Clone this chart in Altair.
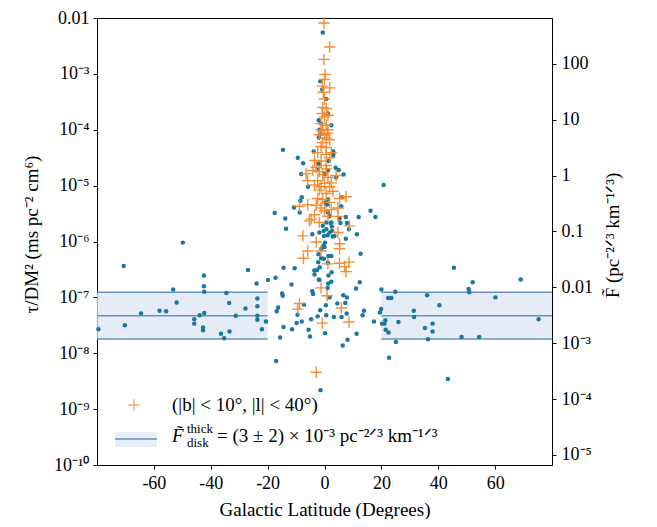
import altair as alt
import pandas as pd

# ---------------- data ----------------
# all pulsars: galactic latitude (deg) and log10(tau/DM^2)
blue_b = [-79.5, -70.6, -70.2, -64.5, -58.0, -55.7, -53.2, -52.0, -49.8, -45.8, -45.8, -43.9,
          -42.7, -42.7, -42.4, -42.4, -42.3, -42.3, -36.4, -35.3, -34.5, -33.5, -33.4, -31.2,
          -27.8, -26.9, -23.9, -23.6, -23.6, -23.6, -23.6, -22.0, -20.6, -19.9, -17.5, -17.2,
          -17.0, -16.8, -16.3, -15.6, -14.9, -14.7, -14.6, -14.4, -14.4, -13.8, -13.5, -11.6,
          -11.4, -10.7, -10.5, -9.8, -9.5, -9.4, -8.7, -8.5, -8.2, -8.0, -8.0, -7.5, -7.2,
          -5.8, -5.6, -5.1, -4.7, -4.3, -4.3, -4.0, -3.8, -3.6, -3.5, -2.6, -2.4, -2.4, -2.2,
          -2.1, -2.0, -2.0, -2.0, -2.0, -1.8, -1.8, -1.8, -1.7, -1.5, -1.5, -1.5, -1.4, -1.2,
          -1.2, -1.1, -0.8, -0.6, -0.6, -0.4, -0.3, -0.2, -0.2, 0.0, 0.1, 0.2, 0.2, 0.4, 0.5,
          0.6, 0.6, 0.6, 0.6, 0.9, 1.1, 1.1, 1.2, 1.2, 1.2, 1.2, 1.2, 1.3, 1.4, 1.4, 1.5, 1.8,
          1.8, 1.8, 2.1, 2.4, 2.4, 2.4, 2.4, 2.5, 2.6, 2.7, 2.9, 3.1, 3.1, 3.3, 3.5, 3.9, 4.1,
          4.5, 5.0, 5.3, 5.6, 5.9, 6.0, 6.1, 6.4, 6.6, 6.7, 7.3, 7.5, 7.5, 7.8, 7.9, 7.9, 8.1,
          8.6, 11.1, 11.3, 11.4, 12.0, 12.4, 12.7, 13.4, 13.9, 16.2, 17.4, 17.9, 19.5, 19.9,
          20.0, 20.2, 20.8, 21.1, 21.4, 21.5, 22.4, 22.5, 22.7, 23.5, 24.9, 25.1, 26.0, 31.4,
          31.5, 35.3, 36.1, 36.4, 38.0, 38.0, 40.4, 43.4, 45.5, 48.2, 50.7, 50.9, 52.1, 54.4,
          60.1, 69.0, 75.3]
blue_logtau = [-7.57, -6.44, -7.50, -7.29, -7.24, -7.25, -6.86, -7.09, -6.02, -7.39, -7.47, -7.32,
               -7.54, -7.59, -6.61, -6.80, -6.90, -7.28, -7.65, -7.73, -6.92, -7.10, -7.61, -7.33,
               -7.20, -6.51, -6.75, -7.02, -7.16, -7.33, -7.40, -7.57, -7.43, -6.69, -5.49, -6.65,
               -8.14, -7.25, -7.18, -7.72, -6.93, -6.97, -4.36, -6.47, -7.53, -5.59, -5.77, -6.77,
               -7.57, -5.39, -6.48, -7.46, -7.31, -4.50, -5.48, -5.27, -4.79, -5.21, -7.43, -4.60,
               -7.13, -5.02, -7.58, -7.70, -7.39, -5.87, -6.89, -6.94, -4.39, -6.52, -6.59, -6.51,
               -7.34, -4.72, -6.37, -6.23, -6.68, -4.61, -4.14, -3.83, -6.69, -5.84, -4.00, -6.46,
               -7.23, -3.13, -4.08, -8.66, -6.30, -3.89, -6.13, -3.28, -2.26, -5.72, -6.07, -5.81,
               -6.31, -5.90, -6.10, -4.79, -6.02, -7.64, -5.30, -7.14, -7.32, -5.66, -5.78, -3.45,
               -5.34, -6.83, -5.89, -5.48, -5.25, -4.73, -6.38, -3.71, -6.75, -6.61, -6.26, -4.56,
               -7.00, -5.84, -5.55, -5.67, -6.72, -6.26, -5.66, -3.92, -6.55, -5.73, -5.81, -5.91,
               -4.39, -4.45, -7.35, -5.90, -4.68, -4.85, -7.11, -4.72, -5.59, -5.67, -5.37, -7.35,
               -5.21, -7.86, -6.96, -4.80, -7.10, -5.56, -5.95, -7.29, -7.00, -5.67, -7.76, -5.78,
               -6.84, -7.65, -5.87, -5.56, -6.73, -6.22, -7.32, -7.24, -5.45, -7.43, -5.56, -7.27,
               -7.21, -6.86, -7.47, -4.99, -7.47, -7.41, -7.58, -7.01, -7.63, -8.08, -7.01, -6.90,
               -7.80, -7.44, -7.24, -7.35, -7.55, -6.96, -7.75, -7.47, -7.61, -7.14, -8.46, -6.47,
               -7.71, -6.85, -6.91, -6.73, -7.71, -7.00, -6.68, -7.39]

# pulsars with |b| < 10 deg, |l| < 40 deg
orange_b = [-0.2, 1.8, -0.2, 0.2, 0.0, -0.8, 1.8, -0.4, 0.0, -0.6, 0.6, -0.8, 1.2, 0.0, -1.2,
            0.6, -0.6, -1.2, 1.2, 1.2, -1.8, 0.0, 1.8, -0.6, 0.6, -2.4, 2.4, 0.6, -1.2, 0.6,
            -2.9, 0.6, -4.1, -6.5, 4.1, -5.9, -2.4, 0.0, -3.5, -1.2, 1.8, -1.8, 0.6, 7.6, 5.3,
            -2.4, -5.9, -8.8, -1.2, 4.7, 2.4, -3.5, 1.2, 4.7, -4.7, -5.3, -1.8, 8.8, 4.7, -7.6,
            -2.9, 5.3, 5.3, -1.2, -5.9, -7.4, 5.3, 1.2, 8.6, 7.1, 7.6, -1.2, 0.9, -8.8, -9.4,
            5.9, 8.6, -0.8, -2.9, -0.6, 1.2, -1.8, 2.4, -0.6, 1.8, 0.0, -2.9, 3.0, -3.5, 1.8,
            -1.2, 0.6]
orange_logtau = [-2.09, -2.52, -2.74, -3.01, -3.10, -3.22, -3.25, -3.33, -3.45, -3.60, -3.62,
                 -3.71, -3.74, -3.77, -3.89, -3.92, -4.00, -4.00, -4.00, -4.06, -4.09, -4.09,
                 -4.18, -4.23, -4.32, -4.41, -4.41, -4.44, -4.56, -4.64, -4.67, -4.70, -4.73,
                 -4.79, -4.82, -4.91, -4.91, -4.96, -4.99, -5.02, -5.02, -5.08, -5.14, -5.20,
                 -5.23, -5.23, -5.34, -5.37, -5.40, -5.40, -5.43, -5.52, -5.55, -5.55, -5.60,
                 -5.63, -5.66, -5.72, -5.84, -5.90, -6.01, -6.04, -6.13, -6.17, -6.17, -6.30,
                 -6.39, -6.40, -6.37, -6.45, -6.54, -6.83, -6.97, -7.11, -7.21, -7.19, -7.44,
                 -7.46, -8.34, -4.80, -4.85, -4.75, -4.95, -5.25, -5.30, -5.45, -5.35, -5.10,
                 -4.55, -4.50, -4.30, -4.15]

# thick-disk band (in tau/DM^2 units) and the |b| ranges where it is drawn
band_lo, band_mid, band_hi = 1.79e-8, 4.71e-8, 1.24e-7
band_from = [-80, 20]
band_to = [-20, 80]

# axes
x_ticks = [-60, -40, -20, 0, 20, 40, 60]
left_ticks = [1e-10, 1e-9, 1e-8, 1e-7, 1e-6, 1e-5, 1e-4, 1e-3, 1e-2]
left_labels = ["10⁻¹⁰", "10⁻⁹", "10⁻⁸", "10⁻⁷", "10⁻⁶", "10⁻⁵", "10⁻⁴", "10⁻³", "0.01"]
right_ticks = [1e-5, 1e-4, 1e-3, 1e-2, 1e-1, 1, 10, 100]
right_labels = ["10⁻⁵", "10⁻⁴", "10⁻³", "0.01", "0.1", "1", "10", "100"]
right_domain = [6.6e-6, 662.0]   # F~ values matching tau/DM^2 = 1e-10 .. 1e-2

# ---------------- style ----------------
FONT = "Liberation Serif"
BLUE = "#18789f"
ORANGE = "#f5882a"
BAND_FILL = "#dce6f2"
BAND_LINE = "#6592c0"
TOP = 10
W, H = 455, 447


def label_expr(ticks, labels):
    import math
    expr = "''"
    for t, s in zip(ticks, labels):
        k = round(math.log10(t))
        expr = f"(abs(log(datum.value)/LN10 - ({k})) < 0.01 ? '{s}' : {expr})"
    return expr


AX = dict(grid=False, tickSize=4, domainColor="black", tickColor="black",
          labelFont=FONT, titleFont=FONT, labelFontSize=18, titleFontSize=19,
          titleFontWeight="normal", labelColor="black", titleColor="black")

blue_df = pd.DataFrame({"b": blue_b, "tau": [10 ** v for v in blue_logtau]})
orange_df = pd.DataFrame({"b": orange_b, "tau": [10 ** v for v in orange_logtau]})
band_df = pd.DataFrame({"b0": band_from, "b1": band_to,
                        "lo": [band_lo] * 2, "hi": [band_hi] * 2})
lines_df = pd.DataFrame({
    "b0": band_from * 3, "b1": band_to * 3,
    "tau": [band_lo] * 2 + [band_mid] * 2 + [band_hi] * 2,
})

xscale = alt.Scale(domain=[-80, 80], nice=False, zero=False)
yscale = alt.Scale(type="log", domain=[1e-10, 1e-2], nice=False)

xaxis = alt.Axis(
    title="Galactic Latitude (Degrees)", values=x_ticks,
    labelExpr="datum.value < 0 ? '-' + abs(datum.value) : '' + datum.value",
    labelPadding=5, titlePadding=8, **AX,
)
yaxis = alt.Axis(
    title="τ/DM² (ms pc⁻² cm⁶)", values=left_ticks,
    labelExpr=label_expr(left_ticks, left_labels), labelPadding=4,
    titleX=-66, titleY=226 - TOP, titleAngle=270, titleAlign="center", titleBaseline="middle",
    **AX,
)

band = alt.Chart(band_df).mark_rect(color=BAND_FILL, opacity=0.75).encode(
    x=alt.X("b0:Q", scale=xscale, axis=xaxis),
    x2="b1:Q",
    y=alt.Y("lo:Q", scale=yscale, axis=yaxis),
    y2="hi:Q",
)
lines = alt.Chart(lines_df).mark_rule(color=BAND_LINE, strokeWidth=1.5).encode(
    x=alt.X("b0:Q", scale=xscale, axis=xaxis),
    x2="b1:Q",
    y=alt.Y("tau:Q", scale=yscale, axis=yaxis),
)
blue = alt.Chart(blue_df).mark_point(
    filled=True, shape="circle", size=20, color=BLUE, opacity=1
).encode(
    x=alt.X("b:Q", scale=xscale, axis=xaxis),
    y=alt.Y("tau:Q", scale=yscale, axis=yaxis),
)
orange = alt.Chart(orange_df).mark_point(
    shape="M-1,0L1,0M0,-1L0,1", size=130, filled=False, color=ORANGE,
    strokeWidth=1.4, opacity=0.95
).encode(
    x=alt.X("b:Q", scale=xscale, axis=xaxis),
    y=alt.Y("tau:Q", scale=yscale, axis=yaxis),
)

# legend (drawn inside the plot, lower left); positions in plot pixels
leg_src = pd.DataFrame({"k": [0]})
leg_plus = alt.Chart(leg_src).mark_point(
    shape="M-1,0L1,0M0,-1L0,1", size=130, filled=False, color=ORANGE, strokeWidth=1.4
).encode(x=alt.value(37), y=alt.value(405 - 8 - TOP))
leg_patch = alt.Chart(leg_src).mark_rect(color=BAND_FILL, opacity=0.75).encode(
    x=alt.value(18), x2=alt.value(60), y=alt.value(432 - 8 - TOP), y2=alt.value(447 - 8 - TOP))
leg_line = alt.Chart(leg_src).mark_rule(color=BAND_LINE, strokeWidth=1.5).encode(
    x=alt.value(18), x2=alt.value(60), y=alt.value(439 - 8 - TOP))
leg_t1 = alt.Chart(leg_src).mark_text(
    text="(|b| < 10°, |l| < 40°)", font=FONT, fontSize=19, align="left", baseline="middle"
).encode(x=alt.value(75), y=alt.value(405 - 8 - TOP))
leg_F = alt.Chart(leg_src).mark_text(
    text="F̃", font=FONT, fontSize=19, fontStyle="italic", align="left", baseline="middle"
).encode(x=alt.value(75), y=alt.value(436 - 8 - TOP))
leg_sup = alt.Chart(leg_src).mark_text(
    text="thick", font=FONT, fontSize=13, align="left", baseline="middle"
).encode(x=alt.value(90), y=alt.value(429 - 8 - TOP))
leg_sub = alt.Chart(leg_src).mark_text(
    text="disk", font=FONT, fontSize=13, align="left", baseline="middle"
).encode(x=alt.value(90), y=alt.value(443 - 8 - TOP))
leg_t2 = alt.Chart(leg_src).mark_text(
    text="= (3 ± 2) × 10⁻³ pc⁻²ᐟ³ km⁻¹ᐟ³", font=FONT, fontSize=19, align="left",
    baseline="middle"
).encode(x=alt.value(120), y=alt.value(436 - 8 - TOP))

left = alt.layer(band, lines, blue, orange, leg_patch, leg_line, leg_plus,
                 leg_t1, leg_F, leg_sup, leg_sub, leg_t2)

right_df = pd.DataFrame({"F": right_ticks})
right = alt.Chart(right_df).mark_point(opacity=0).encode(
    x=alt.value(0),
    y=alt.Y("F:Q", scale=alt.Scale(type="log", domain=right_domain, nice=False),
            axis=alt.Axis(
                orient="right", title="F̃ (pc⁻²ᐟ³ km⁻¹ᐟ³)", values=right_ticks,
                labelExpr=label_expr(right_ticks, right_labels), labelPadding=5,
                titleX=60, titleY=235 - 8 - TOP, titleAngle=270, titleAlign="center",
                titleBaseline="middle", **AX,
            )),
)

chart = alt.layer(left, right).resolve_scale(y="independent").properties(
    width=W, height=H, autosize="none", background="white",
    padding={"left": 89, "top": TOP, "right": 90, "bottom": 54},
).configure_view(stroke="black", strokeWidth=1)

chart.save("out.html", embed_options={"renderer": "svg", "actions": False})
